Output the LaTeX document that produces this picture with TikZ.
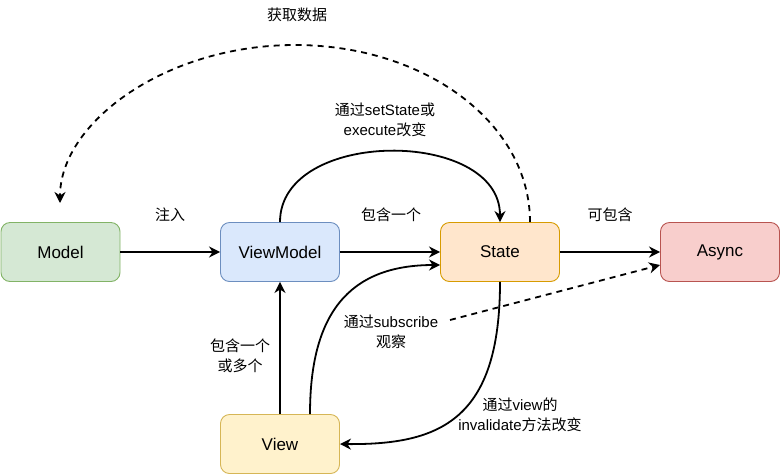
\documentclass[tikz,border=0pt]{standalone}
\usepackage{fontspec}
\setmainfont{Liberation Sans}
\newfontfamily\cjk{Noto Sans CJK SC}
\usetikzlibrary{arrows.meta}
\definecolor{gfill}{HTML}{D5E8D4}\definecolor{gdraw}{HTML}{82B366}
\definecolor{bfill}{HTML}{DAE8FC}\definecolor{bdraw}{HTML}{6C8EBF}
\definecolor{ofill}{HTML}{FFE6CC}\definecolor{odraw}{HTML}{D79B00}
\definecolor{rfill}{HTML}{F8CECC}\definecolor{rdraw}{HTML}{B85450}
\definecolor{yfill}{HTML}{FFF2CC}\definecolor{ydraw}{HTML}{D6B656}
\begin{document}
\begin{tikzpicture}[x=1pt,y=-1pt,
  box/.style={draw, rounded corners=9pt, minimum width=119pt, minimum height=59pt, line width=0.9pt, font=\fontsize{17}{20}\selectfont, inner sep=0pt},
  lab/.style={font=\fontsize{15}{20}\selectfont, align=center, inner sep=1pt},
  conn/.style={line width=1.8pt, -{Stealth[length=11pt,width=11pt,inset=3.5pt]}},
  dconn/.style={conn, dash pattern=on 6pt off 5pt}
]
\useasboundingbox (0,0) rectangle (781,475);
\node[box, fill=gfill, draw=gdraw] (Model) at (60.5,252) {Model};
\node[box, fill=bfill, draw=bdraw] (VM) at (280,252) {ViewModel};
\node[box, fill=ofill, draw=odraw] (State) at (500,252) {State};
\node[box, fill=rfill, draw=rdraw] (Async) at (720,252) {Async};
\node[box, fill=yfill, draw=ydraw] (View) at (280,444) {View};
\coordinate (mtop) at (60,203);
\coordinate (subS) at (450,320);
% labels
\node[lab] (l1) at (170,215) {{\cjk 注入}};
\node[lab] (l2) at (391,215) {{\cjk 包含一个}};
\node[lab] (l3) at (610,215) {{\cjk 可包含}};
\node[lab] (l4) at (297,15) {{\cjk 获取数据}};
\node[lab] (l5) at (385,120) {{\cjk 通过}setState{\cjk 或}\\execute{\cjk 改变}};
\node[lab] (l6) at (240,356) {{\cjk 包含一个}\\{\cjk 或多个}};
\node[lab] (l7) at (391,332) {{\cjk 通过}subscribe\\{\cjk 观察}};
\node[lab] (l8) at (520,415) {{\cjk 通过}view{\cjk 的}\\invalidate{\cjk 方法改变}};
% connectors
\draw[conn] (Model) -- (VM);
\draw[conn] (VM) -- (State);
\draw[conn] (State) -- (Async);
\draw[conn] (View) -- (VM);
\draw[conn] (VM.north) .. controls (280,128) and (500,128) .. (State.north);
\draw[dconn] ([xshift=30pt]State.north) .. controls (530,123) and (425,45) .. (295,45) .. controls (165,45) and (60,123) .. (mtop);
\draw[conn] ([xshift=30pt]View.north) .. controls (310,316) and (347,265) .. ([yshift=-13pt]State.west);
\draw[conn] (State.south) .. controls (500,420) and (440,445) .. (View.east);
\draw[dconn] (subS) -- ([yshift=-13pt]Async.west);
\end{tikzpicture}
\end{document}
